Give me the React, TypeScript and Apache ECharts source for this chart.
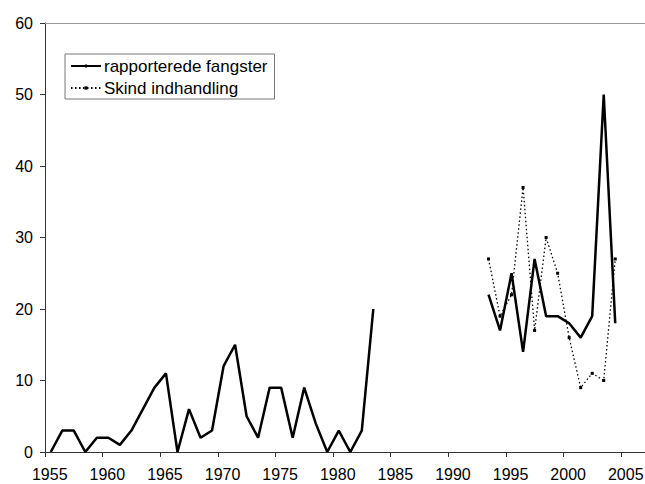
import React, { useEffect, useRef } from "react";
import * as echarts from "echarts";

const catchYears = [
  1955, 1956, 1957, 1958, 1959, 1960, 1961, 1962, 1963, 1964, 1965, 1966, 1967, 1968, 1969,
  1970, 1971, 1972, 1973, 1974, 1975, 1976, 1977, 1978, 1979, 1980, 1981, 1982, 1983,
  1984, 1985, 1986, 1987, 1988, 1989, 1990, 1991, 1992,
  1993, 1994, 1995, 1996, 1997, 1998, 1999, 2000, 2001, 2002, 2003, 2004,
];
const catchValues: (number | null)[] = [
  0, 3, 3, 0, 2, 2, 1, 3, 6, 9, 11, 0, 6, 2, 3,
  12, 15, 5, 2, 9, 9, 2, 9, 4, 0, 3, 0, 3, 20,
  null, null, null, null, null, null, null, null, null,
  22, 17, 25, 14, 27, 19, 19, 18, 16, 19, 50, 18,
];
const skinYears = [1993, 1994, 1995, 1996, 1997, 1998, 1999, 2000, 2001, 2002, 2003, 2004];
const skinValues = [27, 19, 22, 37, 17, 30, 25, 16, 9, 11, 10, 27];
const xTickLabels = [1955, 1960, 1965, 1970, 1975, 1980, 1985, 1990, 1995, 2000, 2005];
const seriesNames = ["rapporterede fangster", "Skind indhandling"];

const FONT = "'Liberation Sans', Arial, sans-serif";

export default function App() {
  const ref = useRef<HTMLDivElement>(null);
  useEffect(() => {
    if (!ref.current) return;
    const chart = echarts.init(ref.current, undefined, { renderer: "svg" });
    // Each year occupies one category slot; its point sits in the middle of the slot.
    const toPoint = (y: number, v: number | null) => [y + 0.5, v === null ? "-" : v];
    chart.setOption({
      animation: false,
      textStyle: { fontFamily: FONT },
      grid: { left: 45, top: 23, width: 633.6, height: 429, containLabel: false },
      legend: {
        left: 65,
        top: 54,
        orient: "vertical",
        data: seriesNames,
        borderColor: "#777",
        borderWidth: 1,
        padding: [3, 7, 2, 5],
        itemGap: 4,
        itemWidth: 30,
        itemHeight: 4,
        textStyle: { fontSize: 17, lineHeight: 18, color: "#000", fontFamily: FONT, padding: [0, 0, 0, -2] },
      },
      xAxis: [
        {
          type: "value",
          min: 1955,
          max: 2010,
          interval: 5,
          splitLine: { show: false },
          axisLine: { show: true, lineStyle: { color: "#333", width: 1 } },
          axisTick: { show: true, inside: false, length: 5, lineStyle: { color: "#333" } },
          axisLabel: {
            color: "#000",
            fontSize: 16,
            fontFamily: FONT,
            margin: 14,
            padding: [0, 0, 0, 9.5],
            formatter: (v: number) => (xTickLabels.indexOf(v) >= 0 ? String(v) : ""),
          },
        },
        {
          type: "value",
          position: "top",
          min: 1955,
          max: 2010,
          interval: 5,
          splitLine: { show: false },
          axisLine: { show: true, lineStyle: { color: "#999", width: 1 } },
          axisTick: { show: false },
          axisLabel: { show: false },
        },
      ],
      yAxis: {
        type: "value",
        min: 0,
        max: 60,
        interval: 10,
        splitLine: { show: false },
        axisLine: { show: true, lineStyle: { color: "#333", width: 1 } },
        axisTick: { show: true, inside: false, length: 5, lineStyle: { color: "#333" } },
        axisLabel: { color: "#000", fontSize: 16, fontFamily: FONT, margin: 12 },
      },
      series: [
        {
          name: seriesNames[0],
          type: "line",
          data: catchYears.map((y, i) => toPoint(y, catchValues[i])),
          connectNulls: false,
          symbol: "none",
          lineStyle: { color: "#000", width: 2.5 },
          itemStyle: { color: "#000" },
        },
        {
          name: seriesNames[1],
          type: "line",
          data: skinYears.map((y, i) => toPoint(y, skinValues[i])),
          symbol: "rect",
          symbolSize: 3,
          lineStyle: { color: "#000", width: 1.3, type: [1.5, 2.5] },
          itemStyle: { color: "#000" },
        },
      ],
    });
    return () => chart.dispose();
  }, []);
  return (
    <div style={{ position: "absolute", left: 0, top: 0, width: 645, height: 484, overflow: "hidden", background: "#fff" }}>
      <div ref={ref} style={{ width: 700, height: 484 }} />
    </div>
  );
}
